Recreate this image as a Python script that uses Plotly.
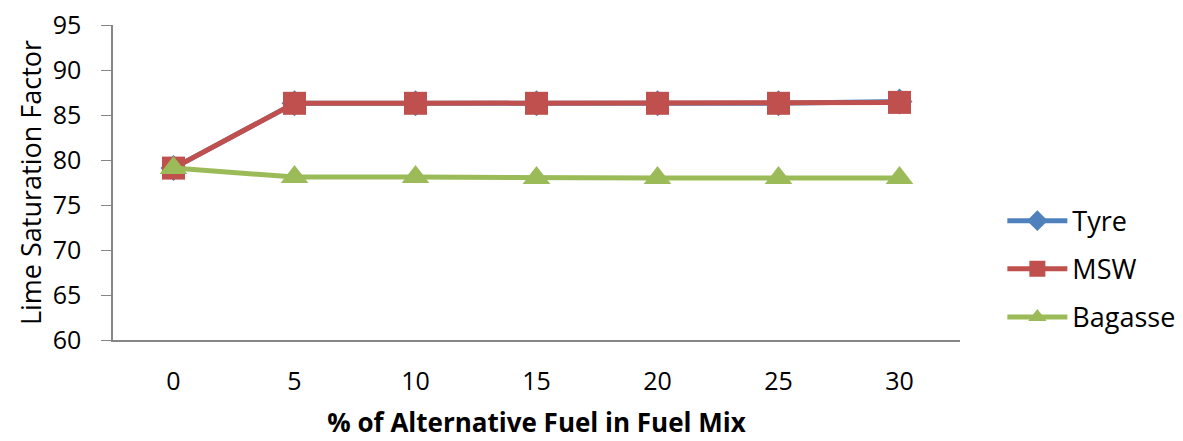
import plotly.graph_objects as go

categories = ["0", "5", "10", "15", "20", "25", "30"]
tyre = [79.1, 86.3, 86.3, 86.3, 86.3, 86.3, 86.5]
msw = [79.1, 86.3, 86.3, 86.3, 86.3, 86.3, 86.4]
bagasse = [79.1, 78.1, 78.1, 78.0, 78.0, 78.0, 78.0]

fig = go.Figure()
fig.add_trace(go.Scatter(x=categories, y=tyre, name="Tyre", mode="lines+markers", legendgroup="a",
                         line=dict(color="#4F81BD", width=5),
                         marker=dict(symbol="diamond", size=20, color="#4F81BD")))
fig.add_trace(go.Scatter(x=categories, y=msw, name="MSW", mode="lines+markers", legendgroup="b",
                         line=dict(color="#C0504D", width=5),
                         marker=dict(symbol="square", size=23, color="#C0504D")))
fig.add_trace(go.Scatter(x=categories, y=bagasse, name="Bagasse", mode="lines+markers", legendgroup="c",
                         line=dict(color="#9BBB59", width=5),
                         marker=dict(symbol="triangle-up", size=24, color="#9BBB59")))

fig.update_layout(
    width=1183, height=441,
    margin=dict(l=113, r=223, t=25, b=101, autoexpand=False),
    paper_bgcolor="white", plot_bgcolor="white",
    font=dict(family="Open Sans, Liberation Sans, sans-serif", size=25, color="black"),
    showlegend=True,
    legend=dict(x=1.05, y=0.225, xanchor="left", yanchor="middle",
                font=dict(size=27), tracegroupgap=10, itemwidth=60),
    xaxis=dict(type="category", range=[-0.5, 6.5], showline=True, linecolor="#868686",
               linewidth=1.5, ticks="", showgrid=False, tickfont=dict(size=25),
               ticklabelstandoff=18, automargin=True,
               title=dict(text="<b>% of Alternative Fuel in Fuel Mix</b>", font=dict(size=26), standoff=18)),
    yaxis=dict(range=[60, 95], dtick=5, showline=True, linecolor="#868686", linewidth=1.5,
               ticks="outside", ticklen=10, tickcolor="#868686", showgrid=False,
               tickfont=dict(size=25), ticklabelstandoff=15, automargin=True,
               title=dict(text="Lime Saturation Factor", font=dict(size=27), standoff=3)),
)

fig.write_html("out.html")
